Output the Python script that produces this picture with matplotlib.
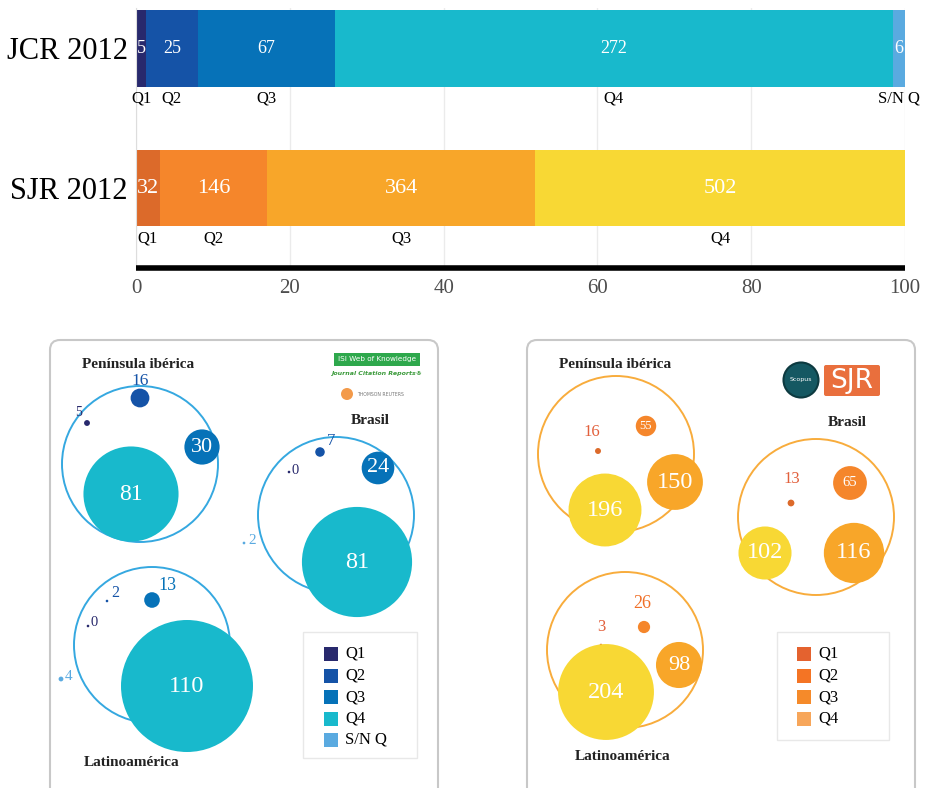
import numpy as np
import matplotlib.pyplot as plt
from matplotlib.patches import Circle, FancyBboxPatch, Rectangle

# ---- data ----
jcr_labels = ['Q1', 'Q2', 'Q3', 'Q4', 'S/N Q']
jcr_totals = [5, 25, 67, 272, 6]
sjr_labels = ['Q1', 'Q2', 'Q3', 'Q4']
sjr_totals = [32, 146, 364, 502]

regions = ['Península ibérica', 'Brasil', 'Latinoamérica']
jcr_peninsula = [5, 16, 30, 81, 0]
jcr_brasil = [0, 7, 24, 81, 2]
jcr_latam = [0, 2, 13, 110, 4]
sjr_peninsula = [16, 55, 150, 196]
sjr_brasil = [13, 65, 116, 102]
sjr_latam = [3, 26, 98, 204]

# ---- styles ----
jcr_colors = ['#28296d', '#1553a7', '#0672b8', '#18b9cc', '#5aaae0']
sjr_colors = ['#dc6a2a', '#f5862b', '#f8a629', '#f8d834']
sjr_legend_colors = ['#e4622f', '#f47424', '#f58a2a', '#f7a65a']
sjr_text_colors = ['#e2603c', '#f07028', 'white', 'white']

plt.rcParams['font.family'] = ['Liberation Serif', 'DejaVu Serif']

W, H = 927, 788
fig = plt.figure(figsize=(W / 100, H / 100), dpi=100)

# ---- top: stacked percentage bars ----
ax = fig.add_axes([136 / W, 1 - 268 / H, (905 - 136) / W, (268 - 8) / H])
rows = [(0, jcr_totals, jcr_labels, jcr_colors, 13),
        (1, sjr_totals, sjr_labels, sjr_colors, 16)]
for y, counts, labels, colors, fs in rows:
    pct = 100 * np.array(counts) / sum(counts)
    left = np.concatenate([[0], np.cumsum(pct)[:-1]])
    ax.barh(y, pct, left=left, height=0.55, color=colors, zorder=2)
    for l, p, c, lab in zip(left, pct, counts, labels):
        ax.text(l + p / 2, y, str(c), color='white', ha='center', va='center', fontsize=fs, zorder=3)
        ax.text(l + p / 2, y + 0.36, lab, ha='center', va='center', fontsize=12)

ax.set_xlim(0, 100)
ax.set_ylim(1.573, -0.29)
ax.set_yticks([0, 1], ['JCR 2012', 'SJR 2012'], fontsize=22)
ax.set_xticks(np.arange(0, 101, 20))
ax.tick_params(axis='y', length=0, pad=6)
ax.tick_params(axis='x', length=0, pad=8, labelsize=15, labelcolor='#4d4d4d')
ax.grid(axis='x', color='#ebebeb', lw=1, zorder=0)
ax.spines[['top', 'right']].set_visible(False)
ax.spines['left'].set_color('#dddddd')
ax.spines['bottom'].set_color('black')
ax.spines['bottom'].set_linewidth(4)
ax.spines['bottom'].set_capstyle('butt')

# ---- bottom: bubble panels (drawn in pixel units) ----
ov = fig.add_axes([0, 0, 1, (H - 330) / H])
ov.set_xlim(0, W)
ov.set_ylim(H, 330)
ov.axis('off')

for x0 in (50, 527):
    ov.add_patch(FancyBboxPatch((x0, 340), 388, 470, boxstyle='round,pad=0,rounding_size=10',
                                fc='white', ec='#c8c8c8', lw=1.5, zorder=1))

# bubble layout: ring centre, radius scale, title spot, bubble spots, outside label spots, font sizes
jcr_layout = {
    'Península ibérica': dict(ring=(140, 464), k=0.587, title=(138, 365),
                              pos=[(87, 423), (140, 398), (202, 447), (131, 494), None],
                              lab=[(79, 412), (140, 381), None, None, None],
                              fs=[10, 12.5, 16, 17, 10]),
    'Brasil': dict(ring=(336, 515), k=0.68, title=(370, 420),
                   pos=[(289, 472), (320, 452), (378, 468), (357, 562), (244, 543)],
                   lab=[(295, 471), (331, 441), None, None, (252, 541)],
                   fs=[10.5, 12, 16, 17.5, 11]),
    'Latinoamérica': dict(ring=(152, 645), k=0.6, title=(132, 763),
                          pos=[(88, 626), (107, 601), (152, 600), (187, 686), (61, 679)],
                          lab=[(94, 622), (115, 593), (167, 586), None, (69, 676)],
                          fs=[10.5, 11.5, 13, 17.5, 11]),
}
sjr_layout = {
    'Península ibérica': dict(ring=(616, 454), k=0.186, title=(615, 365),
                              pos=[(598, 451), (646, 426), (675, 482), (605, 510)],
                              lab=[(592, 432), None, None, None],
                              fs=[12, 9, 17.5, 17.5]),
    'Brasil': dict(ring=(816, 517), k=0.26, title=(847, 422),
                   pos=[(791, 503), (850, 483), (854, 553), (765, 553)],
                   lab=[(792, 479), None, None, None],
                   fs=[12, 10.5, 17.5, 17.5]),
    'Latinoamérica': dict(ring=(625, 650), k=0.235, title=(623, 757),
                          pos=[(601, 645), (644, 627), (679, 665), (606, 692)],
                          lab=[(601, 627), (642, 604), None, None],
                          fs=[12, 13, 16, 17.5]),
}

jcr_values = dict(zip(regions, [jcr_peninsula, jcr_brasil, jcr_latam]))
sjr_values = dict(zip(regions, [sjr_peninsula, sjr_brasil, sjr_latam]))


def draw_group(values, lay, colors, text_colors, ring_color, name):
    cx, cy = lay['ring']
    ov.add_patch(Circle((cx, cy), 78, fc='none', ec=ring_color, lw=1.4, zorder=2))
    ov.text(*lay['title'], name, ha='center', va='center', fontsize=11,
            fontweight='bold', color='#222222', zorder=5)
    for i, v in enumerate(values):
        if lay['pos'][i] is None:
            continue
        r = max(v * lay['k'], 1.3)
        ov.add_patch(Circle(lay['pos'][i], r, fc=colors[i], ec='none', zorder=3))
        if lay['lab'][i] is None:
            ov.text(*lay['pos'][i], str(v), ha='center', va='center', color='white',
                    fontsize=lay['fs'][i], zorder=4)
        else:
            ov.text(*lay['lab'][i], str(v), ha='center', va='center', color=text_colors[i],
                    fontsize=lay['fs'][i], zorder=4)


for name in regions:
    draw_group(jcr_values[name], jcr_layout[name], jcr_colors, jcr_colors, '#35a8e0', name)
    draw_group(sjr_values[name], sjr_layout[name], sjr_colors, sjr_text_colors, '#f8ac3c', name)

# legends
ov.add_patch(Rectangle((303, 632), 114, 126, fc='white', ec='#e8e8e8', lw=1, zorder=2))
for i, (lab, c) in enumerate(zip(jcr_labels, jcr_colors)):
    yy = 654 + i * 21.5
    ov.add_patch(Rectangle((324, yy - 7), 14, 14, fc=c, ec='none', zorder=3))
    ov.text(345, yy, lab, va='center', fontsize=12, zorder=3)

ov.add_patch(Rectangle((777, 632), 112, 108, fc='white', ec='#e8e8e8', lw=1, zorder=2))
for i, (lab, c) in enumerate(zip(sjr_labels, sjr_legend_colors)):
    yy = 654 + i * 21.5
    ov.add_patch(Rectangle((797, yy - 7), 14, 14, fc=c, ec='none', zorder=3))
    ov.text(818, yy, lab, va='center', fontsize=12, zorder=3)

# logos
ov.add_patch(Rectangle((334, 353), 86, 13, fc='#2ea84c', ec='none', zorder=3))
ov.text(377, 359.5, 'ISI Web of Knowledge', ha='center', va='center', color='white',
        fontsize=5.2, family='DejaVu Sans', zorder=4)
ov.text(377, 373, 'Journal Citation Reports®', ha='center', va='center', color='#3a9a3a',
        fontsize=4.5, family='DejaVu Sans', fontweight='bold', style='italic', zorder=4)
ov.add_patch(Circle((347, 394), 6, fc='#f39a4a', ec='none', zorder=3))
ov.text(357, 394, 'THOMSON REUTERS', ha='left', va='center', color='#777777',
        fontsize=3.3, family='DejaVu Sans', zorder=4)

ov.add_patch(Circle((801, 380), 17.5, fc='#155862', ec='#0d3a40', lw=1.5, zorder=3))
ov.text(801, 380, 'Scopus', ha='center', va='center', color='white', fontsize=4.5,
        family='DejaVu Sans', zorder=4)
ov.add_patch(FancyBboxPatch((824, 365), 56, 31, boxstyle='round,pad=0,rounding_size=2',
                            fc='#e96f3d', ec='none', zorder=3))
ov.text(852, 381, 'SJR', ha='center', va='center', color='white', fontsize=19,
        family='DejaVu Sans', zorder=4)

fig.savefig('out.png', dpi=100)
